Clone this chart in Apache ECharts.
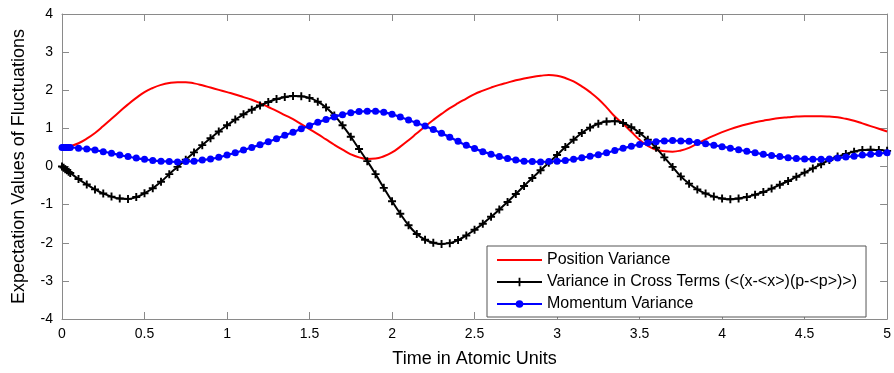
<!DOCTYPE html>
<html><head><meta charset="utf-8">
<script src="https://cdn.jsdelivr.net/npm/echarts@6/dist/echarts.min.js"></script>
<style>html,body{margin:0;padding:0;background:#fff}#c{width:894px;height:373px}</style>
</head><body><div id="c"></div>
<script>
const times = [0,0.01,0.02,0.03,0.04,0.05,
0.10,0.15,0.20,0.25,0.30,0.35,0.40,0.45,0.50,
0.55,0.60,0.65,0.70,0.75,0.80,0.85,0.90,0.95,1.00,
1.05,1.10,1.15,1.20,1.25,1.30,1.35,1.40,1.45,1.50,
1.55,1.60,1.65,1.70,1.75,1.80,1.85,1.90,1.95,2.00,
2.05,2.10,2.15,2.20,2.25,2.30,2.35,2.40,2.45,2.50,
2.55,2.60,2.65,2.70,2.75,2.80,2.85,2.90,2.95,3.00,
3.05,3.10,3.15,3.20,3.25,3.30,3.35,3.40,3.45,3.50,
3.55,3.60,3.65,3.70,3.75,3.80,3.85,3.90,3.95,4.00,
4.05,4.10,4.15,4.20,4.25,4.30,4.35,4.40,4.45,4.50,
4.55,4.60,4.65,4.70,4.75,4.80,4.85,4.90,4.95,5.00];

const positionVariance = [0.50,0.50,0.50,0.51,0.52,0.53,
0.61,0.73,0.88,1.06,1.25,1.44,1.63,1.80,1.95,
2.06,2.14,2.19,2.21,2.21,2.18,2.13,2.07,2.01,1.95,
1.89,1.82,1.75,1.66,1.56,1.46,1.35,1.24,1.11,0.98,
0.85,0.71,0.57,0.44,0.32,0.24,0.20,0.21,0.27,0.37,
0.52,0.69,0.87,1.05,1.22,1.38,1.53,1.66,1.78,1.90,
1.99,2.07,2.14,2.20,2.26,2.31,2.35,2.38,2.40,2.38,
2.32,2.23,2.10,1.95,1.77,1.55,1.31,1.12,0.91,0.70,
0.54,0.44,0.40,0.39,0.42,0.49,0.60,0.71,0.81,0.90,
0.98,1.05,1.11,1.16,1.20,1.24,1.27,1.29,1.31,1.32,
1.32,1.32,1.31,1.29,1.25,1.20,1.13,1.06,0.99,0.92];

const crossTerms = [0,-0.03,-0.07,-0.10,-0.14,-0.17,
-0.33,-0.47,-0.60,-0.71,-0.79,-0.84,-0.85,-0.80,-0.70,
-0.57,-0.40,-0.20,-0.01,0.18,0.37,0.56,0.74,0.92,1.08,
1.23,1.37,1.49,1.60,1.69,1.77,1.82,1.85,1.84,1.80,
1.70,1.55,1.34,1.08,0.78,0.46,0.14,-0.20,-0.56,-0.91,
-1.24,-1.54,-1.77,-1.92,-2.00,-2.03,-2.01,-1.93,-1.81,-1.66,
-1.50,-1.32,-1.13,-0.93,-0.72,-0.51,-0.30,-0.10,0.10,0.30,
0.51,0.70,0.88,1.02,1.12,1.18,1.19,1.14,1.03,0.88,
0.70,0.49,0.24,-0.01,-0.26,-0.45,-0.60,-0.71,-0.79,-0.84,
-0.86,-0.84,-0.80,-0.74,-0.67,-0.58,-0.48,-0.38,-0.27,-0.16,
-0.05,0.06,0.17,0.26,0.33,0.39,0.43,0.44,0.43,0.41];

const momentumVariance = [0.50,0.50,0.50,0.50,0.50,0.50,
0.48,0.46,0.43,0.39,0.35,0.30,0.26,0.22,0.19,
0.16,0.14,0.13,0.12,0.13,0.14,0.17,0.20,0.24,0.30,
0.36,0.43,0.50,0.57,0.65,0.73,0.82,0.90,0.99,1.07,
1.16,1.23,1.30,1.36,1.41,1.44,1.45,1.45,1.42,1.37,
1.30,1.22,1.14,1.06,0.97,0.87,0.77,0.66,0.56,0.47,
0.39,0.32,0.26,0.21,0.17,0.14,0.13,0.12,0.13,0.14,
0.16,0.19,0.23,0.27,0.31,0.36,0.42,0.48,0.53,0.58,
0.62,0.65,0.67,0.68,0.67,0.66,0.63,0.60,0.56,0.52,
0.48,0.44,0.40,0.36,0.32,0.29,0.26,0.23,0.21,0.20,
0.19,0.19,0.20,0.22,0.25,0.27,0.30,0.32,0.34,0.36];

const seriesNames = ['Position Variance','Variance in Cross Terms (<(x-<x>)(p-<p>)>)','Momentum Variance'];
const xTicks = [0,0.5,1,1.5,2,2.5,3,3.5,4,4.5,5];
const yTicks = [-4,-3,-2,-1,0,1,2,3,4];

const pair = arr => times.map((t,i)=>[t,arr[i]]);
const FONT = '"Liberation Sans", Arial, sans-serif';
const axisGray = '#8a8a8a';
const plusPath = 'path://M3.8,0H6.2V3.8H10V6.2H6.2V10H3.8V6.2H0V3.8H3.8Z';
const iconLine = 'path://M0,0M45,14M0,6.1H45V7.9H0Z';
const iconPlus = 'path://M0,0M45,14M0,6.1H45V7.9H0Z M21.6,2.8H23.4V11.2H21.6Z';
const iconDot = 'path://M0,0M45,14M0,6.1H19.2V7.9H0Z M25.8,6.1H45V7.9H25.8Z M18.7,7A3.8,3.8 0 1 1 26.3,7A3.8,3.8 0 1 1 18.7,7Z';

const chart = echarts.init(document.getElementById('c'), null, {renderer:'canvas'});
const baseX = {
  type:'value', min:xTicks[0], max:xTicks[xTicks.length-1], interval:0.5,
  axisLine:{show:true, onZero:false, lineStyle:{color:axisGray, width:1}},
  axisTick:{show:true, inside:true, length:7, lineStyle:{color:axisGray}},
  splitLine:{show:false}
};
const baseY = {
  type:'value', min:yTicks[0], max:yTicks[yTicks.length-1], interval:1,
  axisLine:{show:true, onZero:false, lineStyle:{color:axisGray, width:1}},
  axisTick:{show:true, inside:true, length:7, lineStyle:{color:axisGray}},
  splitLine:{show:false}
};
chart.setOption({
  animation:false,
  backgroundColor:'#fff',
  grid:{left:62, right:5, top:14, bottom:51, containLabel:false},
  textStyle:{fontFamily:FONT},
  xAxis:[
    Object.assign({}, baseX, {position:'bottom',
      axisLabel:{show:true, margin:8, fontSize:14, color:'#000', fontFamily:FONT},
      name:'Time in Atomic Units', nameLocation:'middle', nameGap:31,
      nameTextStyle:{fontSize:18, color:'#000', fontFamily:FONT}}),
    Object.assign({}, baseX, {position:'top', axisLabel:{show:false}})
  ],
  yAxis:[
    Object.assign({}, baseY, {position:'left',
      axisLabel:{show:true, margin:9, fontSize:14, color:'#000', fontFamily:FONT},
      name:'Expectation Values of Fluctuations', nameLocation:'middle', nameGap:34,
      nameTextStyle:{fontSize:18, color:'#000', fontFamily:FONT}}),
    Object.assign({}, baseY, {position:'right', axisLabel:{show:false}})
  ],
  legend:{
    show:true, orient:'vertical', left:487, top:246,
    itemWidth:45, itemHeight:14, itemGap:6,
    padding:[6,9,5,10],
    backgroundColor:'#fff', borderColor:'#555', borderWidth:1,
    selectedMode:false,
    textStyle:{fontSize:16, color:'#000', fontFamily:FONT, padding:[0,0,0,0]},
    data:[
      {name:seriesNames[0], icon:iconLine},
      {name:seriesNames[1], icon:iconPlus},
      {name:seriesNames[2], icon:iconDot}
    ]
  },
  series:[
    {name:seriesNames[0], type:'line', smooth:true, symbol:'none',
     data:pair(positionVariance), z:2,
     lineStyle:{color:'#ff0000', width:2}, itemStyle:{color:'#ff0000'}},
    {name:seriesNames[1], type:'line', smooth:true, symbol:plusPath, symbolSize:8,
     showAllSymbol:true, data:pair(crossTerms), z:3,
     lineStyle:{color:'#000', width:2}, itemStyle:{color:'#000'}},
    {name:seriesNames[2], type:'line', smooth:true, symbol:'circle', symbolSize:7,
     showAllSymbol:true, data:pair(momentumVariance), z:4,
     lineStyle:{color:'#0000ff', width:2.2}, itemStyle:{color:'#0000ff'}}
  ]
});
</script>
</body></html>
